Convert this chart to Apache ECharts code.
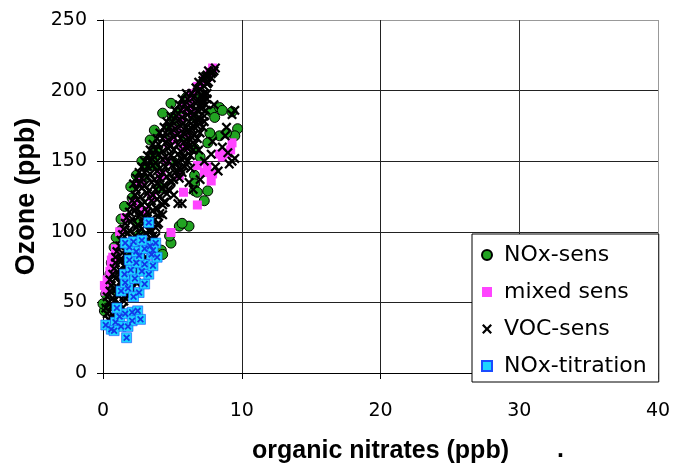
<!DOCTYPE html>
<html>
<head>
<meta charset="utf-8">
<style>
  html, body { margin: 0; padding: 0; background: #fff; }
  #chart { width: 675px; height: 468px; }
</style>
<script src="https://cdn.jsdelivr.net/npm/echarts@6/dist/echarts.min.js"></script>
</head>
<body>
<div id="chart"></div>
<script>
// Ozone vs. organic nitrates, points grouped by chemical regime

const seriesNames = ['NOx-sens', 'mixed sens', 'VOC-sens', 'NOx-titration'];

const xRange = [0, 40];
const xStep = 10;
const yRange = [0, 250];
const yStep = 50;

// [organic nitrates (ppb), ozone (ppb)]
const noxSens = [
  [0.1,44],[0.0,49],[0.2,56],[0.4,63],[0.5,70],[0.6,78],[0.8,89],[0.95,96],[1.3,101],[1.3,109],
  [1.55,118],[2.1,124],[2.0,132],[2.4,140],[2.85,138],[2.8,150],[3.1,146],[3.7,147],[3.7,153],[3.9,158],
  [3.4,165],[3.7,172],[4.3,184],[4.8,174],[4.9,167],[5.0,181],[5.2,174],[5.4,185],[4.9,191],[5.9,192],
  [6.0,195],[7.1,195],[7.8,185],[8.05,181],[8.4,188],[8.6,186],[9.3,185],[9.7,173],[9.5,168],[8.9,170],
  [8.4,168],[7.8,168],[7.7,170],[7.55,163],[7.0,153],[6.6,159],[6.6,140],[6.6,134],[6.6,129],[6.8,128],
  [7.55,129],[7.3,122],[6.2,104],[5.5,104],[5.7,106],[4.9,92],[4.8,97],[4.2,87],[4.3,84],[1.5,72],
  [2.6,98],[3.1,112],[4.1,131],[5.0,150],[5.9,168],[6.5,182],[1.0,58],[0.3,46],[1.9,86],[2.5,106]
];

const mixedSens = [
  [7.9,216],[7.7,213],[7.5,209.5],[7.3,207],[6.8,203],[6.4,198],[6.25,192],[5.9,188],[6.4,185],[5.6,180],
  [6.0,170],[5.3,172],[4.7,163],[5.8,160],[5.0,165],[4.6,150],[4.2,140],[3.5,125],[3.0,115],[5.8,128],
  [5.5,140],[7.3,142],[7.8,136],[6.8,119],[4.9,99.5],[7.5,146],[7.9,141],[6.8,147],[8.4,155],[8.6,153],
  [8.9,155.5],[9.3,163],[9.2,158],[0.1,62],[0.3,66],[0.5,72],[0.6,76],[0.6,80],[0.7,82],[0.9,88],
  [0.2,58],[1.2,100],[1.6,110],[2.2,120],[2.7,135]
];

const vocSens = [
  // scattered outliers and branch points
  [0.5,37],[1.2,48],[2.1,60],[2.4,64],[2.9,77],[3.0,81],[3.4,92],[3.8,96],[3.5,101],[4.0,106],
  [4.3,112],[3.9,116],[4.5,121],[5.4,120],[5.1,126],[4.7,130],[4.9,136],[5.2,142],[5.6,144],[5.4,149],
  [5.8,153],[6.0,160],[6.3,165],[6.1,172],[6.5,175],[6.9,179],[6.8,186],[7.1,191],[7.3,198],[7.5,205],
  [7.4,210],[7.8,212],[8.0,214],[7.6,206],[8.1,216],
  [8.9,174],[9.5,186],[9.3,183],[9.0,156],[9.3,150],[9.1,148],[8.3,143],[7.8,155],[8.6,160],[9.5,152],
  [8.8,168],[8.1,146],[5.7,120],[6.5,130],[7.0,137],[7.3,150],[7.9,164],[8.0,190],[6.2,135],[6.9,158],
  [6.3,145],
  // dense core of the band
  [0.4,38],[0.8,39],
  [0.3,42],[0.7,41],[1.1,43],
  [0.2,46],[0.6,47],[1.0,45],[1.4,46],
  [0.4,50],[0.8,51],[1.2,49],[1.5,51],
  [0.3,54],[0.7,53],[1.1,55],[1.5,54],[1.8,55],
  [0.5,58],[0.9,59],[1.3,57],[1.7,58],[2.0,59],
  [0.6,62],[1.0,61],[1.4,63],[1.8,62],
  [0.5,66],[0.9,67],[1.3,65],[1.7,66],[2.1,67],
  [0.7,70],[1.1,71],[1.5,69],[1.9,70],[2.3,71],
  [0.8,74],[1.2,73],[1.6,75],[2.0,74],[2.5,73],
  [0.9,78],[1.3,79],[1.7,77],[2.1,78],[2.6,79],
  [0.9,82],[1.3,81],[1.7,83],[2.2,82],[2.7,81],
  [1.0,86],[1.4,85],[1.8,87],[2.3,86],[2.8,85],[3.2,87],
  [1.2,90],[1.6,91],[2.0,89],[2.5,90],[2.9,91],[3.3,89],
  [1.3,94],[1.7,93],[2.1,95],[2.6,94],[3.0,93],[3.5,95],
  [1.4,98],[1.8,99],[2.3,97],[2.7,98],[3.1,99],[3.6,97],
  [1.5,102],[1.9,101],[2.4,103],[2.8,102],[3.3,101],[3.8,103],
  [1.6,106],[2.0,107],[2.5,105],[2.9,106],[3.4,107],[3.9,105],
  [1.7,110],[2.1,109],[2.6,111],[3.0,110],[3.5,109],[4.0,111],
  [1.9,114],[2.3,115],[2.7,113],[3.2,114],[3.6,115],[4.1,113],
  [2.0,118],[2.4,117],[2.8,119],[3.3,118],[3.8,117],[4.3,119],
  [2.1,122],[2.5,123],[3.0,121],[3.5,122],[3.9,123],[4.4,121],
  [2.3,126],[2.7,125],[3.2,127],[3.6,126],[4.1,125],[4.6,127],
  [2.4,130],[2.8,131],[3.3,129],[3.8,130],[4.3,131],[4.8,129],
  [2.2,134],[2.6,134],[3.0,133],[3.5,135],[3.9,134],[4.4,133],[4.9,135],
  [2.4,138],[2.8,138],[3.2,139],[3.7,137],[4.1,138],[4.6,139],[5.1,137],[5.5,138],
  [2.6,142],[3.0,142],[3.4,141],[3.9,143],[4.3,142],[4.8,141],[5.3,143],[5.7,142],
  [2.8,146],[3.2,146],[3.6,147],[4.1,145],[4.5,146],[5.0,147],[5.5,145],[5.9,146],
  [3.0,150],[3.4,150],[3.8,149],[4.3,151],[4.7,150],[5.2,149],[5.7,151],[6.1,150],
  [3.2,154],[3.6,154],[4.0,155],[4.5,153],[4.9,154],[5.4,155],[5.9,153],[6.3,154],
  [3.4,158],[3.8,158],[4.3,157],[4.7,159],[5.1,158],[5.6,157],[6.1,159],[6.5,158],
  [3.6,162],[4.0,162],[4.5,163],[4.9,161],[5.4,162],[5.8,163],[6.2,161],[6.6,162],
  [3.9,166],[4.3,166],[4.7,165],[5.1,167],[5.6,166],[6.0,165],[6.4,167],[6.8,166],
  [4.1,170],[4.5,170],[4.9,171],[5.4,169],[5.8,170],[6.2,171],[6.6,169],[7.0,170],
  [4.4,174],[4.8,174],[5.2,173],[5.6,175],[6.0,174],[6.4,173],[6.8,175],[7.2,174],
  [4.6,178],[5.0,178],[5.4,179],[5.8,177],[6.2,178],[6.6,179],[7.0,177],[7.3,178],
  [4.9,182],[5.3,182],[5.7,181],[6.1,183],[6.5,182],[6.9,181],[7.3,182],
  [5.2,186],[5.6,186],[6.0,187],[6.4,185],[6.8,186],[7.1,187],[7.4,186],
  [5.5,190],[5.9,190],[6.3,189],[6.7,191],[7.0,190],[7.4,190],
  [5.7,194],[6.1,194],[6.5,195],[6.9,193],[7.2,194],[7.5,194],
  [6.0,198],[6.4,198],[6.8,199],[7.1,197],[7.5,198],
  [6.7,202],[7.0,201],[7.3,203],
  [6.9,206],[7.2,207],[7.5,205],
  [7.2,210],[7.5,211],[7.8,209],
  [7.6,214],[7.9,213]
];

const noxTitration = [
  [0.2,34],[0.6,31],[0.9,36],[1.3,33],[1.8,33],[1.7,25],[1.2,40],[1.6,42],[2.1,43],[2.5,44],
  [2.1,37],[0.8,30],[2.7,38],[1.0,46],
  [1.3,58],[1.8,60],[2.6,57],[2.2,54],[3.0,63],[1.6,64],[2.3,67],[1.55,70],[2.0,73],[2.8,72],
  [3.3,70],[3.0,77],[2.4,78],[3.6,76],[1.9,80],[2.6,83],[3.5,84],[2.4,86],[3.0,88],[1.9,89],
  [3.4,90],[2.2,93],[2.8,94],[3.8,92],[1.6,92],[3.3,106.5],[3.6,87],[3.9,82]
];

// Filled cross shapes used as point markers
const crossSymbol = 'path://M0,1.6L1.6,0L5,3.4L8.4,0L10,1.6L6.6,5L10,8.4L8.4,10L5,6.6L1.6,10L0,8.4L3.4,5Z';
const starSymbol = 'path://M0,1.8L1.8,0L5,3.2L8.2,0L10,1.8L6.8,5L10,8.2L8.2,10L5,6.8L1.8,10L0,8.2L3.2,5Z';

const labelFont = 'DejaVu Sans';
const titleFont = 'Liberation Sans';

const chart = echarts.init(document.getElementById('chart'), null, { renderer: 'canvas' });

chart.setOption({
  animation: false,
  backgroundColor: '#fff',
  grid: { left: 103, right: 17, top: 20, bottom: 95, containLabel: false, outerBoundsMode: 'none' },
  xAxis: {
    type: 'value',
    min: xRange[0], max: xRange[1], interval: xStep,
    name: 'organic nitrates (ppb)',
    nameLocation: 'middle',
    nameGap: 66,
    nameTextStyle: { fontFamily: titleFont, fontWeight: 'bold', fontSize: 25, color: '#000' },
    axisLine: { lineStyle: { color: '#000', width: 1 } },
    axisTick: { show: true, inside: false, length: 6, lineStyle: { color: '#000' } },
    axisLabel: { margin: 29, fontFamily: labelFont, fontSize: 19, color: '#000' },
    splitLine: { show: true, lineStyle: { color: ['#222', '#222', '#222', '#333', '#999'], width: 1 } }
  },
  yAxis: {
    type: 'value',
    min: yRange[0], max: yRange[1], interval: yStep,
    name: 'Ozone (ppb)',
    nameLocation: 'middle',
    nameRotate: 90,
    nameGap: 63,
    nameTextStyle: { fontFamily: titleFont, fontWeight: 'bold', fontSize: 27, color: '#000' },
    axisLine: { show: true, lineStyle: { color: '#000', width: 1 } },
    axisTick: { show: true, inside: false, length: 6, lineStyle: { color: '#000' } },
    axisLabel: { margin: 16, fontFamily: labelFont, fontSize: 19, color: '#000' },
    splitLine: { show: true, lineStyle: { color: ['#222', '#222', '#222', '#222', '#222', '#999'], width: 1 } }
  },
  legend: {
    data: seriesNames,
    orient: 'vertical',
    left: 472,
    top: 234,
    padding: [9, 12, 4, 9],
    itemGap: 13,
    itemWidth: 10,
    itemHeight: 10,
    backgroundColor: '#fff',
    borderColor: '#000',
    borderWidth: 1,
    borderRadius: 0,
    textStyle: { fontFamily: labelFont, fontSize: 22, lineHeight: 24, color: '#000', padding: [0, 0, 0, 7] }
  },
  graphic: [{
    type: 'text',
    left: 557,
    top: 438,
    style: { text: '.', font: 'bold 25px "Liberation Sans"', fill: '#000' }
  }],
  series: [
    {
      name: seriesNames[0], type: 'scatter', data: noxSens,
      symbol: 'circle', symbolSize: 10,
      itemStyle: { color: '#22a322', borderColor: '#000', borderWidth: 1, opacity: 1 }
    },
    {
      name: seriesNames[1], type: 'scatter', data: mixedSens,
      symbol: 'rect', symbolSize: 9,
      itemStyle: { color: '#ff44ff', opacity: 1 }
    },
    {
      name: seriesNames[2], type: 'scatter', data: vocSens,
      symbol: crossSymbol, symbolSize: 10,
      itemStyle: { color: '#000', opacity: 1 }
    },
    {
      name: seriesNames[3], type: 'scatter', data: noxTitration,
      symbol: 'rect', symbolSize: 10,
      itemStyle: { color: '#1cd6ff', borderColor: '#1a4cff', borderWidth: 0.6, opacity: 1 }
    },
    {
      name: 'NOx-titration marks', type: 'scatter', data: noxTitration,
      symbol: starSymbol, symbolSize: 7, silent: true,
      itemStyle: { color: '#1238e8', opacity: 1 }
    }
  ]
});
</script>
</body>
</html>
